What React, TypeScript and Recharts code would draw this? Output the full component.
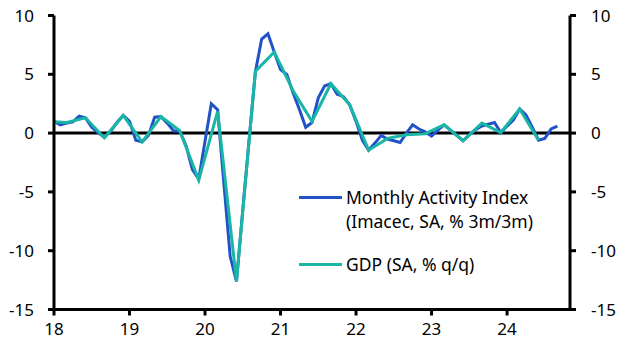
import React from 'react';
import { Line, LineChart, ReferenceLine, XAxis, YAxis } from 'recharts';

// Monthly Activity Index (Imacec, SA, % 3m/3m), Jan 2018 .. Sep 2024
const imacec = [
  1.0, 0.7, 0.85, 0.95, 1.45, 1.3, 0.5, 0.05, -0.35, 0.15, 0.9, 1.5,
  1.0, -0.6, -0.75, -0.2, 1.35, 1.4, 0.85, 0.2, 0.15, -1.1, -3.1, -3.9,
  -0.7, 2.5, 2.0, -4.3, -10.5, -12.6, -6.5, -0.6, 5.2, 8.0, 8.45, 6.9,
  5.4, 5.0, 3.4, 2.0, 0.5, 0.9, 3.0, 4.0, 4.2, 3.3, 3.1, 2.4,
  1.0, -0.6, -1.45, -0.85, -0.2, -0.5, -0.65, -0.8, 0.0, 0.7, 0.35, 0.1,
  -0.25, 0.25, 0.7, 0.25, -0.2, -0.65, -0.15, 0.3, 0.6, 0.75, 0.9, 0.05,
  0.6, 1.1, 2.05, 1.55, 0.5, -0.6, -0.45, 0.35, 0.6,
];

// GDP (SA, % q/q), plotted at quarter-end months, Q4 2017 .. Q2 2024
const gdpQuarters = [
  '2017Q4', '2018Q1', '2018Q2', '2018Q3', '2018Q4', '2019Q1', '2019Q2',
  '2019Q3', '2019Q4', '2020Q1', '2020Q2', '2020Q3', '2020Q4', '2021Q1',
  '2021Q2', '2021Q3', '2021Q4', '2022Q1', '2022Q2', '2022Q3', '2022Q4',
  '2023Q1', '2023Q2', '2023Q3', '2023Q4', '2024Q1', '2024Q2',
];
const gdp = [
  1.0, 0.9, 1.3, -0.4, 1.5, -0.75, 1.4,
  0.2, -4.0, 1.85, -12.6, 5.25, 6.9, 3.6,
  1.0, 4.2, 2.4, -1.45, -0.45, -0.15, -0.05,
  0.7, -0.65, 0.85, 0.05, 2.05, -0.6,
];

const yearTicks = [18, 19, 20, 21, 22, 23, 24];
const valueTicks = [-15, -10, -5, 0, 5, 10];

const BLUE = '#2152C8';
const TEAL = '#19B6A6';
const FONT = '"Noto Sans", sans-serif';

const monthlyData = imacec.map((v, i) => ({ x: 18 + i / 12, imacec: v }));
// quarter-end month: Q1 -> Mar, Q4 2017 -> Dec 2017 (clipped at the left edge)
const gdpData = gdpQuarters.map((q, i) => {
  const year = Number(q.slice(0, 4)) - 2000;
  const quarter = Number(q.slice(5));
  return { x: year + (quarter * 3 - 1) / 12, gdp: gdp[i] };
});

const legendItems = [
  { color: BLUE, lines: ['Monthly Activity Index', '(Imacec, SA, % 3m/3m)'] },
  { color: TEAL, lines: ['GDP (SA, % q/q)'] },
];

function ChartLegend() {
  return (
    <div
      style={{
        position: 'absolute',
        left: 299,
        top: 185,
        fontFamily: FONT,
        fontSize: 17.5,
        color: '#000',
        whiteSpace: 'nowrap',
      }}
    >
      {legendItems.map((item, idx) => (
        <div key={idx} style={{ display: 'flex', alignItems: 'flex-start', marginBottom: 19 }}>
          <div
            style={{
              width: 43,
              height: 3,
              background: item.color,
              marginTop: 11,
              marginRight: 4,
              flexShrink: 0,
            }}
          />
          <div style={{ lineHeight: '24px' }}>
            {item.lines.map((l) => (
              <div key={l}>{l}</div>
            ))}
          </div>
        </div>
      ))}
    </div>
  );
}

const axisStyle = { stroke: '#000', strokeWidth: 3 };
const tickStyle = { fill: '#000', fontSize: 17, fontFamily: FONT };

export default function App() {
  return (
    <div style={{ position: 'absolute', left: 0, top: 0, width: 630, height: 355, background: '#fff' }}>
      <LineChart width={630} height={355} margin={{ top: 15.5, right: 0, bottom: 0, left: 0 }}>
        <XAxis
          type="number"
          dataKey="x"
          domain={[18, 24 + 10 / 12]}
          allowDataOverflow
          ticks={yearTicks}
          height={45.5}
          tickSize={6}
          tickMargin={7}
          axisLine={axisStyle}
          tickLine={axisStyle}
          tick={tickStyle}
        />
        <YAxis
          yAxisId="left"
          domain={[-15, 10]}
          allowDataOverflow
          ticks={valueTicks}
          width={54}
          tickSize={6}
          tickMargin={14}
          axisLine={axisStyle}
          tickLine={axisStyle}
          tick={tickStyle}
        />
        <YAxis
          yAxisId="right"
          orientation="right"
          domain={[-15, 10]}
          allowDataOverflow
          ticks={valueTicks}
          width={60}
          tickSize={6}
          tickMargin={15}
          axisLine={axisStyle}
          tickLine={axisStyle}
          tick={tickStyle}
        />
        <ReferenceLine yAxisId="right" y={0} stroke="#000" strokeWidth={3} />
        <Line
          yAxisId="left"
          data={monthlyData}
          dataKey="imacec"
          type="linear"
          stroke={BLUE}
          strokeWidth={3}
          dot={false}
          isAnimationActive={false}
        />
        <Line
          yAxisId="left"
          data={gdpData}
          dataKey="gdp"
          type="linear"
          stroke={TEAL}
          strokeWidth={3}
          dot={false}
          isAnimationActive={false}
        />
      </LineChart>
      <ChartLegend />
    </div>
  );
}
